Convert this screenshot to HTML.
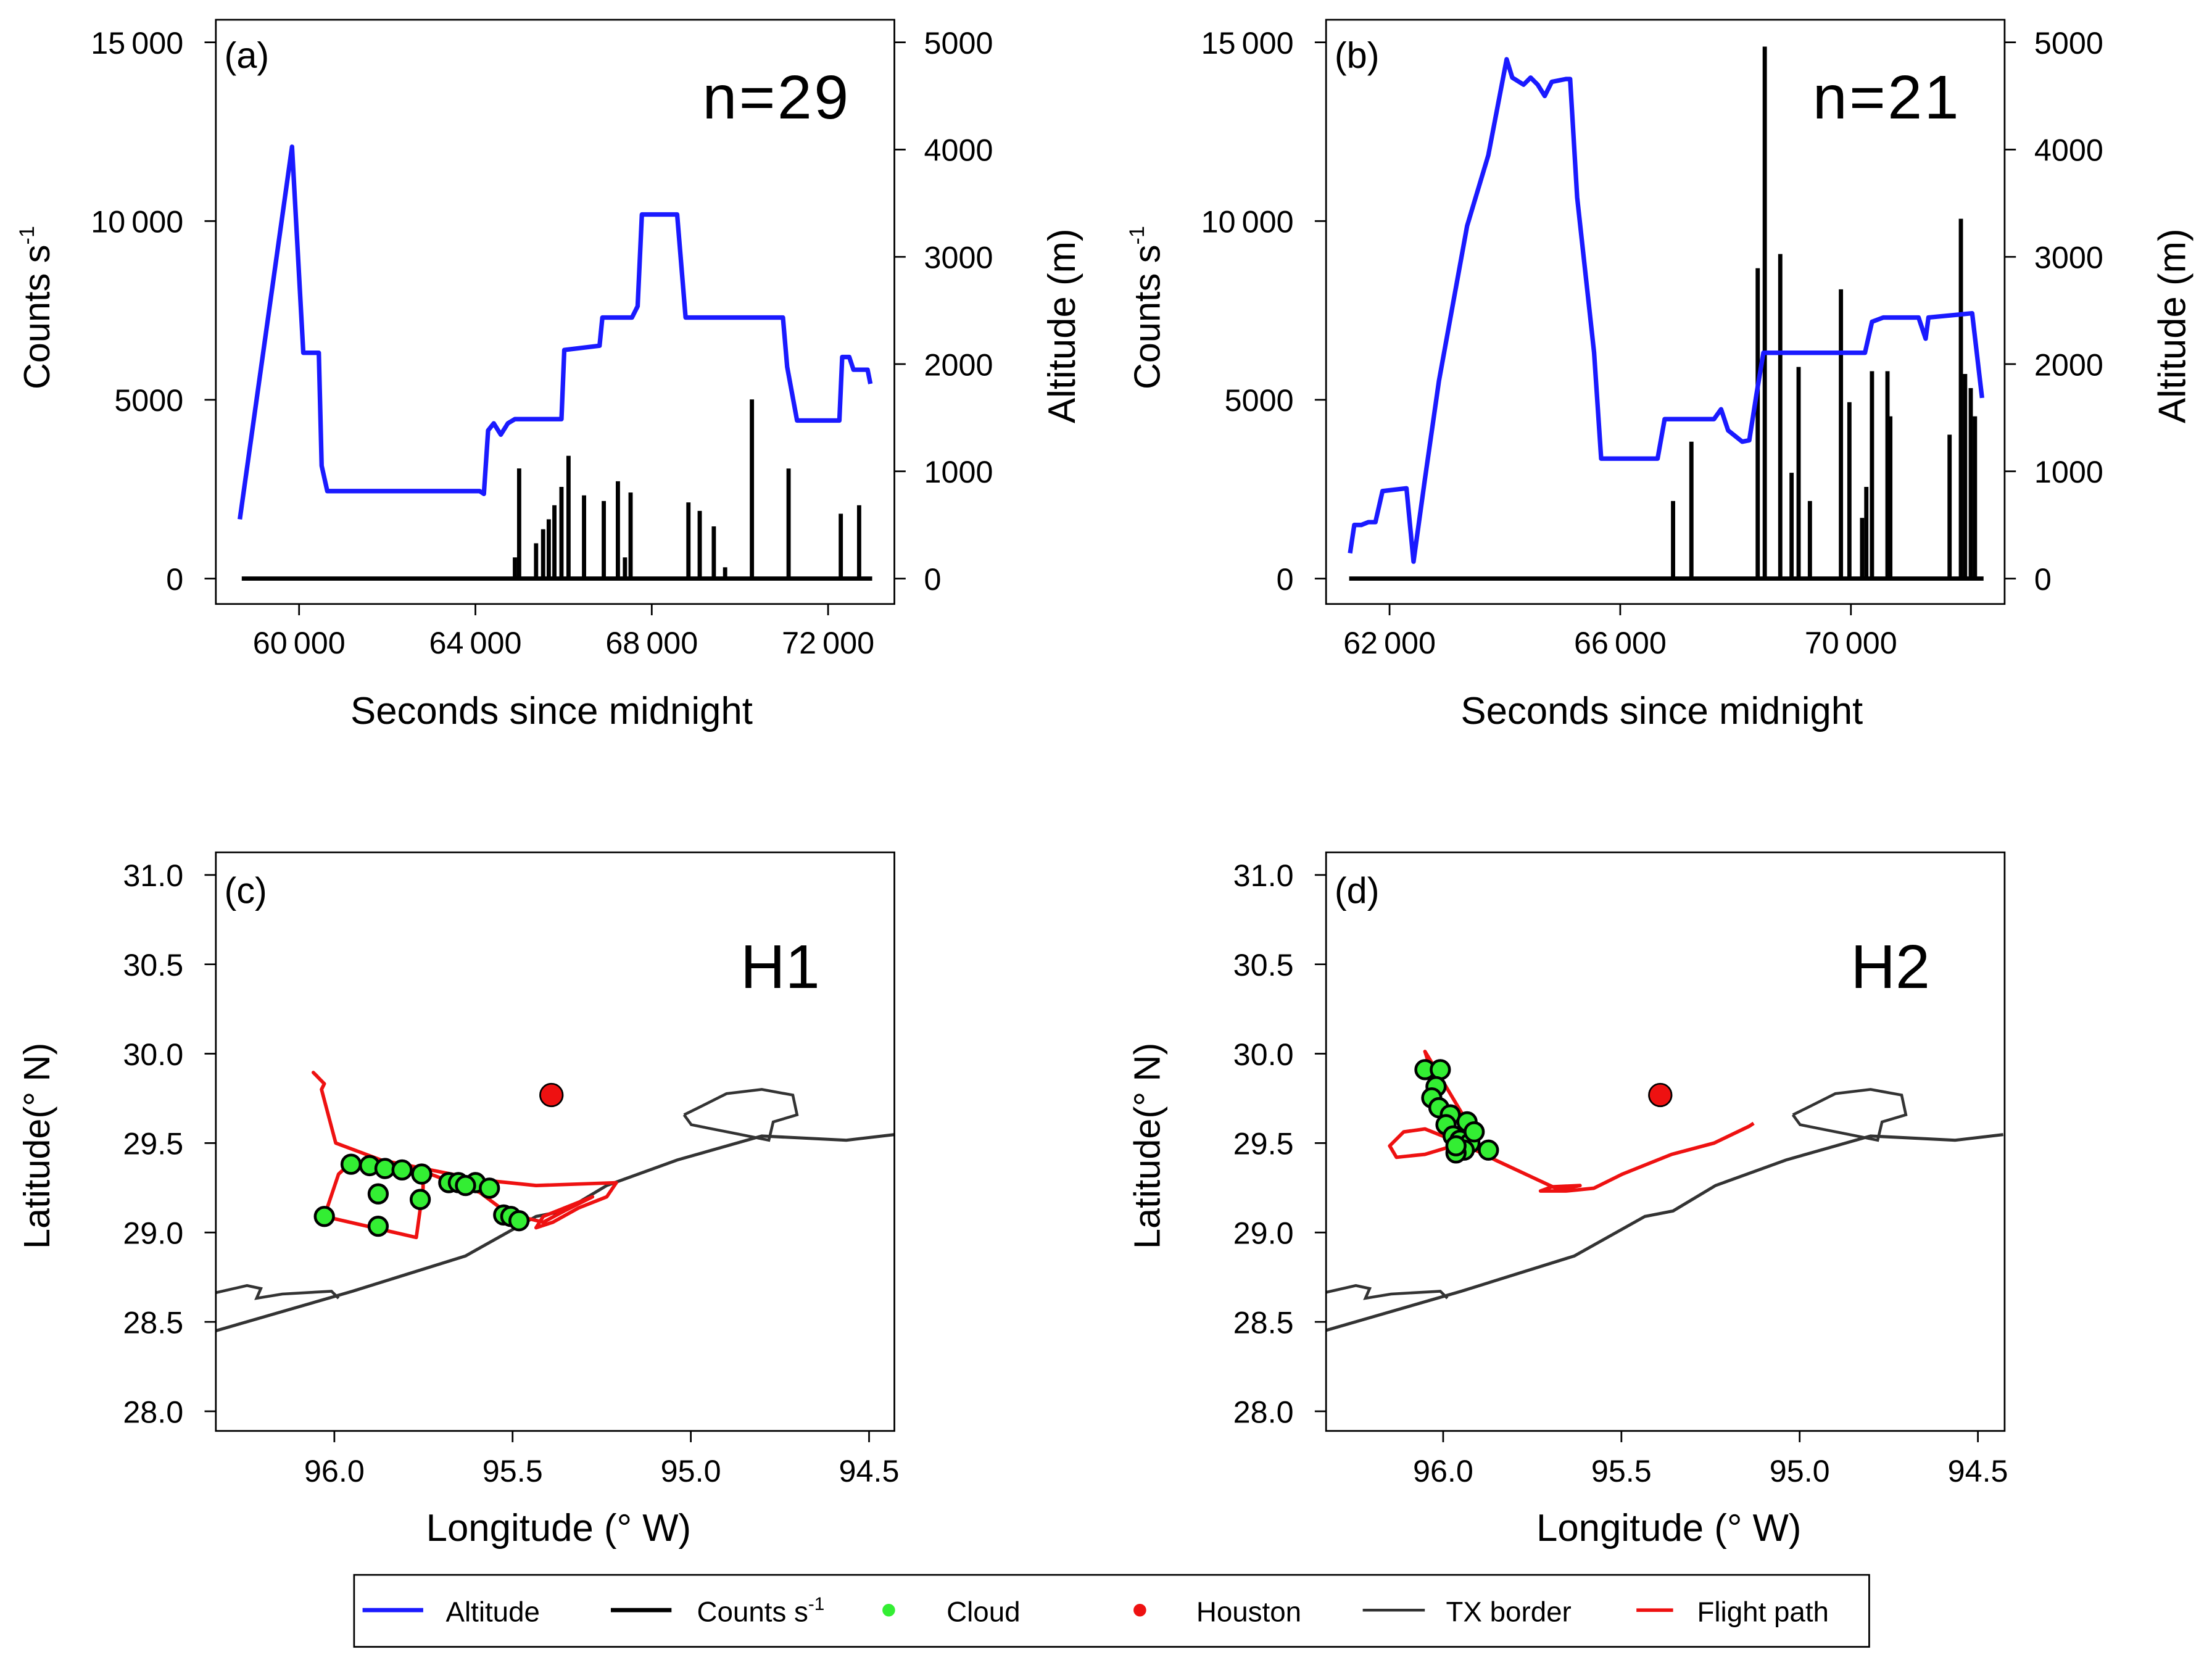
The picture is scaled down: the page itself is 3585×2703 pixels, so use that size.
<!DOCTYPE html>
<html><head><meta charset="utf-8">
<style>
html,body{margin:0;padding:0;background:#fff;}
svg{display:block;font-family:"Liberation Sans",Arial,sans-serif;}
</style></head>
<body>
<svg id="fig" width="3585" height="2703" viewBox="0 0 1568 1182" preserveAspectRatio="none" xmlns="http://www.w3.org/2000/svg">
<rect width="1568" height="1182" fill="#fff"/>
</svg>
<script>
// ---------- Panel (a) data ----------
const altA_t = [58656,59840,60096,60448,60512,60640,64096,64192,64288,64416,64576,64736,64896,65952,66016,66816,66880,67552,67680,67776,68576,68768,70976,71072,71296,72256,72320,72480,72576,72896,72960];
const altA_v = [553,4026,2105,2105,1053,816,816,789,1382,1447,1342,1447,1487,1487,2132,2171,2434,2434,2539,3395,3395,2434,2434,1974,1474,1474,2066,2066,1947,1947,1816];
const cntA_t = [64896,64992,65376,65536,65664,65792,65952,66112,66464,66912,67232,67392,67520,68832,69088,69408,69664,70272,71104,72288,72704];
const cntA_v = [592,3080,987,1380,1658,2052,2565,3434,2328,2171,2723,592,2408,2131,1894,1460,316,5012,3078,1815,2052];
const cntA_range = [58700,73000];
const xTicksA = [60000,64000,68000,72000];
// ---------- Panel (b) data ----------
const altB_t = [61315,61388,61511,61633,61755,61878,62294,62416,62612,62856,63345,63712,64030,64128,64324,64446,64568,64691,64813,65058,65131,65253,65547,65669,66647,66770,67626,67748,67870,68115,68237,68360,68482,69705,70243,70365,70561,71173,71295,71344,72102,72224,72273];
const altB_v = [237,500,500,526,526,816,842,158,921,1842,3290,3947,4842,4671,4605,4671,4605,4500,4632,4658,4658,3553,2105,1118,1118,1487,1487,1579,1382,1276,1289,1711,2105,2105,2105,2395,2434,2434,2237,2434,2474,1908,1684];
const cntB_t = [66916,67234,68384,68506,68775,68971,69093,69289,69827,69974,70194,70267,70365,70634,70683,71711,71907,71980,72078,72151];
const cntB_v = [2171,3829,8683,14880,9078,2960,5921,2171,8091,4934,1697,2565,5802,5802,4539,4026,10065,5723,5328,4539];
const cntB_range = [61300,72300];
const xTicksB = [62000,66000,70000];
const countTicks = [0,5000,10000,15000];
const altTicks = [0,1000,2000,3000,4000,5000];
// ---------- Map data ----------
const coastLon = [96.332,95.949,95.632,95.434,95.355,95.236,95.038,94.801,94.564,94.429];
const coastLat = [28.451,28.672,28.869,29.090,29.121,29.263,29.406,29.540,29.516,29.548];
const bayLon = [95.019,94.979,94.900,94.801,94.714,94.702,94.769,94.781,94.880,94.940,94.999,95.019];
const bayLat = [29.658,29.698,29.777,29.800,29.769,29.658,29.619,29.516,29.556,29.579,29.603,29.658];
const inletLon = [96.332,96.245,96.206,96.218,96.146,96.008,95.988];
const inletLat = [28.664,28.703,28.687,28.632,28.656,28.672,28.632];
const houston = [95.391,29.769];
const flightC_lon = [96.047,96.059,96.028,96.036,95.996,95.869,95.751,95.592,95.434,95.209,95.236,95.315,95.387,95.434,95.414,95.315,95.276,95.355,95.414,95.513,95.592,95.751,95.949,95.988,96.028,95.770,95.751,95.751];
const flightC_lat = [29.871,29.895,29.832,29.800,29.500,29.406,29.358,29.295,29.263,29.279,29.200,29.137,29.058,29.027,29.090,29.169,29.200,29.121,29.058,29.106,29.224,29.342,29.398,29.327,29.090,28.972,29.248,29.342];
const cloudC_lon = [95.953,95.901,95.858,95.810,95.755,95.679,95.652,95.604,95.565,96.028,95.877,95.759,95.877,95.525,95.505,95.482,95.632];
const cloudC_lat = [29.382,29.374,29.358,29.350,29.327,29.279,29.279,29.279,29.248,29.090,29.216,29.185,29.035,29.098,29.090,29.066,29.263];
const flightD_lon = [95.129,95.141,95.240,95.359,95.497,95.577,95.656,95.727,95.695,95.616,95.676,95.854,95.933,95.972,96.051,96.111,96.150,96.131,96.051,95.972,95.913,95.933,95.992,96.044,96.051,96.032,96.012,95.972];
const flightD_lat = [29.611,29.595,29.500,29.437,29.327,29.248,29.232,29.232,29.256,29.263,29.240,29.406,29.485,29.516,29.579,29.563,29.485,29.421,29.437,29.485,29.540,29.619,29.816,29.990,30.013,29.895,29.737,29.579];
const cloudD_lon = [96.051,96.008,96.020,96.032,96.012,95.980,95.933,95.992,95.972,95.953,95.925,95.941,95.964,95.873,95.913,95.964];
const cloudD_lat = [29.911,29.911,29.816,29.753,29.698,29.658,29.619,29.603,29.540,29.516,29.500,29.461,29.445,29.461,29.563,29.485];
const latTicks = [28.0,28.5,29.0,29.5,30.0,30.5,31.0];
const lonTicks = [96.0,95.5,95.0,94.5];

const NS="http://www.w3.org/2000/svg";
const svg=document.getElementById('fig');
function el(tag,attrs,parent,text){const e=document.createElementNS(NS,tag);for(const k in attrs)e.setAttribute(k,attrs[k]);if(text!==undefined)e.textContent=text;(parent||svg).appendChild(e);return e;}
function fmt(v){const s=String(v);return s.length>4? s.slice(0,s.length-3)+'\u2009'+s.slice(-3):s;}

function timePanel(o){
  const g=el('g',{});
  
  
  const X=t=>o.x0px+(t-o.x0v)*o.xs;
  const YC=c=>410-c*380/15000;
  const YA=a=>410-a*380/5000;
  const cg=el('g',{},g);
  
  
  const bl=el('line',{x1:X(o.crange[0]),x2:X(o.crange[1]),y1:YC(0),y2:YC(0),stroke:'#000','stroke-width':3},cg);
  
  
  o.ct.forEach((t,i)=>{
    const s=el('line',{x1:X(t),x2:X(t),y1:YC(0),y2:YC(o.cv[i]),stroke:'#000','stroke-width':3},cg);
    
    
  });
  const pts=o.at.map((t,i)=>X(t).toFixed(1)+','+YA(o.av[i]).toFixed(1)).join(' ');
  const al=el('polyline',{points:pts,fill:'none',stroke:'#1a1aff','stroke-width':3.2,'stroke-linejoin':'round'},g);
  
  
  const box=el('rect',{x:o.bx,y:14,width:481,height:414,fill:'none',stroke:'#000','stroke-width':1.2},g);
  
  
  countTicks.forEach(v=>{
    el('line',{x1:o.bx-8,x2:o.bx,y1:YC(v),y2:YC(v),stroke:'#000','stroke-width':1.2},g);
    const t=el('text',{x:o.bx-23,y:YC(v)+8,'font-size':22,'text-anchor':'end'},g,fmt(v));
    
    
  });
  altTicks.forEach(v=>{
    el('line',{x1:o.bx+481,x2:o.bx+489,y1:YA(v),y2:YA(v),stroke:'#000','stroke-width':1.2},g);
    const t=el('text',{x:o.bx+502,y:YA(v)+8,'font-size':22},g,String(v));
    
    
  });
  o.xticks.forEach(v=>{
    el('line',{x1:X(v),x2:X(v),y1:428,y2:436,stroke:'#000','stroke-width':1.2},g);
    const t=el('text',{x:X(v),y:463,'font-size':22,'text-anchor':'middle'},g,fmt(v));
    
    
  });
  const yt=el('text',{transform:`translate(${o.bx-118},218) rotate(-90)`,'font-size':26,'text-anchor':'middle'},g);
  
  
  yt.innerHTML='Counts s<tspan font-size="15" dy="-11">-1</tspan>';
  const y2=el('text',{transform:`translate(${o.bx+609},231) rotate(-90)`,'font-size':27,'text-anchor':'middle'},g,'Altitude (m)');
  
  
  const xt=el('text',{x:o.bx+238,y:513,'font-size':27,'text-anchor':'middle'},g,'Seconds since midnight');
  
  
  const pl=el('text',{x:o.bx+6,y:48,'font-size':26},g,o.label);
  
  
  const n=el('text',{x:o.bx+450,y:84,'font-size':44,'text-anchor':'end','letter-spacing':1.5},g,o.ntext);
  
  
}

timePanel({name:'panel-a',bx:153,x0px:212,x0v:60000,xs:0.03125,crange:cntA_range,ct:cntA_t,cv:cntA_v,at:altA_t,av:altA_v,xticks:xTicksA,label:'(a)',ntext:'n=29'});
timePanel({name:'panel-b',bx:940,x0px:985,x0v:62000,xs:0.04088,crange:cntB_range,ct:cntB_t,cv:cntB_v,at:altB_t,av:altB_v,xticks:xTicksB,label:'(b)',ntext:'n=21'});

function mapPanel(o){
  const g=el('g',{});
  
  
  const X=l=>o.x96+(96-l)*252.7;
  const Y=la=>620+(31-la)*126.7;
  const clip=el('clipPath',{id:'clip'+o.name},g);
  el('rect',{x:o.bx,y:604,width:481,height:410},clip);
  const inner=el('g',{'clip-path':`url(#clip${o.name})`},g);
  const line=(lo,la)=>lo.map((v,i)=>X(v).toFixed(1)+','+Y(la[i]).toFixed(1)).join(' ');
  const c1=el('polyline',{points:line(coastLon,coastLat),fill:'none',stroke:'#333','stroke-width':2.2},inner);
  
  
  const c2=el('polyline',{points:line(bayLon,bayLat),fill:'none',stroke:'#333','stroke-width':2},inner);
  
  
  const c3=el('polyline',{points:line(inletLon,inletLat),fill:'none',stroke:'#333','stroke-width':2},inner);
  
  
  const fp=el('polyline',{points:line(o.flon,o.flat),fill:'none',stroke:'#ee1111','stroke-width':2.5,'stroke-linejoin':'round'},inner);
  
  
  o.clon.forEach((v,i)=>{
    const c=el('circle',{cx:X(v),cy:Y(o.clat[i]),r:6.5,fill:'#33ee33',stroke:'#000','stroke-width':2},inner);
    
    
  });
  const h=el('circle',{cx:X(houston[0]),cy:Y(houston[1]),r:8,fill:'#ee1111',stroke:'#000','stroke-width':1.2},inner);
  
  
  const box=el('rect',{x:o.bx,y:604,width:481,height:410,fill:'none',stroke:'#000','stroke-width':1.2},g);
  
  
  latTicks.forEach(v=>{
    el('line',{x1:o.bx-8,x2:o.bx,y1:Y(v),y2:Y(v),stroke:'#000','stroke-width':1.2},g);
    const t=el('text',{x:o.bx-23,y:Y(v)+8,'font-size':22,'text-anchor':'end'},g,v.toFixed(1));
    
    
  });
  lonTicks.forEach(v=>{
    el('line',{x1:X(v),x2:X(v),y1:1014,y2:1022,stroke:'#000','stroke-width':1.2},g);
    const t=el('text',{x:X(v),y:1050,'font-size':22,'text-anchor':'middle'},g,v.toFixed(1));
    
    
  });
  const yt=el('text',{transform:`translate(${o.bx-118},812) rotate(-90)`,'font-size':26,'text-anchor':'middle'},g,'Latitude(\u00b0 N)');
  
  
  const xt=el('text',{x:o.bx+243,y:1092,'font-size':27,'text-anchor':'middle'},g,'Longitude (\u00b0 W)');
  
  
  const pl=el('text',{x:o.bx+6,y:640,'font-size':26},g,o.label);
  
  
  const n=el('text',{x:o.bx+400,y:700,'font-size':44,'text-anchor':'middle'},g,o.tag);
  
  
}
mapPanel({name:'panel-c',bx:153,x96:237,flon:flightC_lon,flat:flightC_lat,clon:cloudC_lon,clat:cloudC_lat,label:'(c)',tag:'H1'});
mapPanel({name:'panel-d',bx:940,x96:1023,flon:flightD_lon,flat:flightD_lat,clon:cloudD_lon,clat:cloudD_lat,label:'(d)',tag:'H2'});

// Legend
const lg=el('g',{});


el('rect',{x:251,y:1116,width:1074,height:51,fill:'#fff',stroke:'#000','stroke-width':1.2},lg);
function lgLine(x1,x2,col,w,name){const l=el('line',{x1:x1,x2:x2,y1:1141,y2:1141,stroke:col,'stroke-width':w},lg);}
function lgText(x,txt,name){const t=el('text',{x:x,y:1149,'font-size':20},lg,txt);return t;}
lgLine(257,300,'#1a1aff',3,'legend-altitude-line'); lgText(316,'Altitude','legend-altitude-label');
lgLine(433,476,'#000',3,'legend-counts-line');
const ct=lgText(494,'','legend-counts-label'); ct.innerHTML='Counts s<tspan font-size="13" dy="-8">-1</tspan>';
const gd=el('circle',{cx:630,cy:1141,r:4.5,fill:'#33ee33'},lg);


lgText(671,'Cloud','legend-cloud-label');
const rd=el('circle',{cx:808,cy:1141,r:4.5,fill:'#ee1111'},lg);


lgText(848,'Houston','legend-houston-label');
lgLine(966,1010,'#333',2,'legend-border-line'); lgText(1025,'TX border','legend-border-label');
lgLine(1160,1186,'#ee1111',2.5,'legend-flight-line'); lgText(1203,'Flight path','legend-flight-label');
</script>
</body></html>
